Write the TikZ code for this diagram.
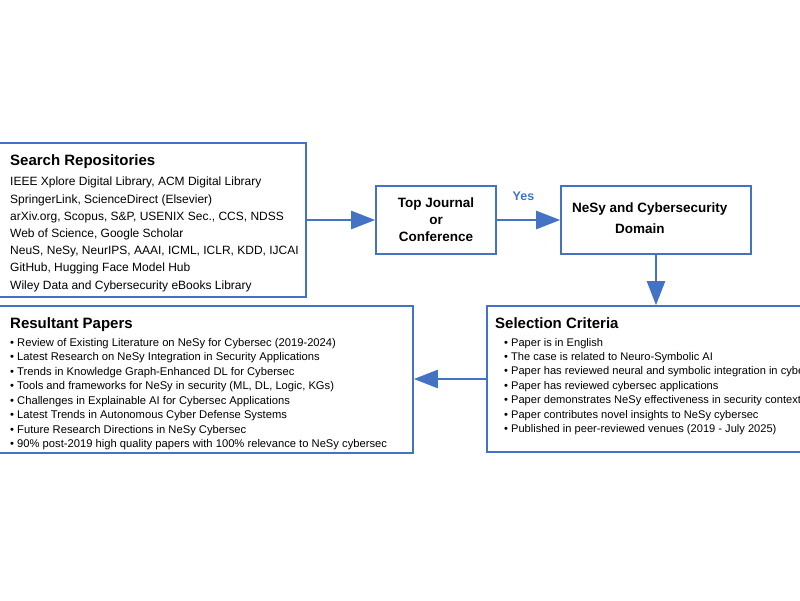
\documentclass[tikz,border=0pt]{standalone}
\usepackage{fontspec}
\setmainfont{Liberation Sans}
\usetikzlibrary{arrows.meta}
\definecolor{flowblue}{HTML}{4472C4}
\begin{document}
\begin{tikzpicture}[x=1pt,y=-1pt,
	box/.style={draw=flowblue,line width=1.6pt,inner sep=0pt},
	flow/.style={draw=flowblue,line width=2.4pt,-{Triangle[length=24pt,width=18pt]}},
	head/.style={anchor=base west,inner sep=0pt,font=\fontsize{15}{18}\selectfont\bfseries},
	body/.style={anchor=base west,inner sep=0pt,align=left}]
	\clip (0,0) rectangle (800,600);
	\useasboundingbox (0,0) rectangle (800,600);

	\draw[] (146,220) node[box,minimum width=320pt,minimum height=154pt] (search) {};
	\draw[] (436,220) node[box,minimum width=120pt,minimum height=68pt,align=center,font=\fontsize{13.5}{17}\selectfont\bfseries] (journal) {Top Journal\\or\\Conference};
	\draw[] (656,220) node[box,minimum width=190pt,minimum height=68pt] (domain) {};
	\draw[] (572,233.3) node[body,font=\fontsize{13.5}{20.6}\selectfont\bfseries] (domaintext) {NeSy and Cybersecurity\\\hspace*{43pt}Domain};
	\draw[] (649,379) node[box,minimum width=324pt,minimum height=146pt] (criteria) {};
	\draw[] (202,379.5) node[box,minimum width=422pt,minimum height=147pt] (results) {};

	\draw[] (10,165) node[head] (searchhead) {Search Repositories};
	\draw[] (10,289) node[body,font=\fontsize{12}{17.2}\selectfont] (searchlist) {IEEE Xplore Digital Library, ACM Digital Library\\
		SpringerLink, ScienceDirect (Elsevier)\\
		arXiv.org, Scopus, S\&P, USENIX Sec., CCS, NDSS\\
		Web of Science, Google Scholar\\
		NeuS, NeSy, NeurIPS, AAAI, ICML, ICLR, KDD, IJCAI\\
		GitHub, Hugging Face Model Hub\\
		Wiley Data and Cybersecurity eBooks Library};

	\draw[] (495,328) node[head] (criteriahead) {Selection Criteria};
	\draw[] (504,432.4) node[body,font=\fontsize{11.1}{14.4}\selectfont] (criterialist) {\textbullet\ Paper is in English\\
		\textbullet\ The case is related to Neuro-Symbolic AI\\
		\textbullet\ Paper has reviewed neural and symbolic integration in cybersec\\
		\textbullet\ Paper has reviewed cybersec applications\\
		\textbullet\ Paper demonstrates NeSy effectiveness in security contexts\\
		\textbullet\ Paper contributes novel insights to NeSy cybersec\\
		\textbullet\ Published in peer-reviewed venues (2019 - July 2025)};

	\draw[] (10,328) node[head] (resultshead) {Resultant Papers};
	\draw[] (10,447.5) node[body,font=\fontsize{11.2}{14.5}\selectfont] (resultslist) {\textbullet\ Review of Existing Literature on NeSy for Cybersec (2019-2024)\\
		\textbullet\ Latest Research on NeSy Integration in Security Applications\\
		\textbullet\ Trends in Knowledge Graph-Enhanced DL for Cybersec\\
		\textbullet\ Tools and frameworks for NeSy in security (ML, DL, Logic, KGs)\\
		\textbullet\ Challenges in Explainable AI for Cybersec Applications\\
		\textbullet\ Latest Trends in Autonomous Cyber Defense Systems\\
		\textbullet\ Future Research Directions in NeSy Cybersec\\
		\textbullet\ 90\% post-2019 high quality papers with 100\% relevance to NeSy cybersec};

	\draw[flow] (search) -- (journal);
	\draw[flow] (journal) -- node[above=18pt,xshift=-5pt,inner sep=0pt,text=flowblue,font=\fontsize{12.5}{15}\selectfont\bfseries] (yes) {Yes} (domain);
	\draw[flow] (domain.south) -- (domain.south |- criteria.north);
	\draw[flow] (criteria.west) -- (criteria.west -| results.east);

	\end{tikzpicture}
\end{document}
